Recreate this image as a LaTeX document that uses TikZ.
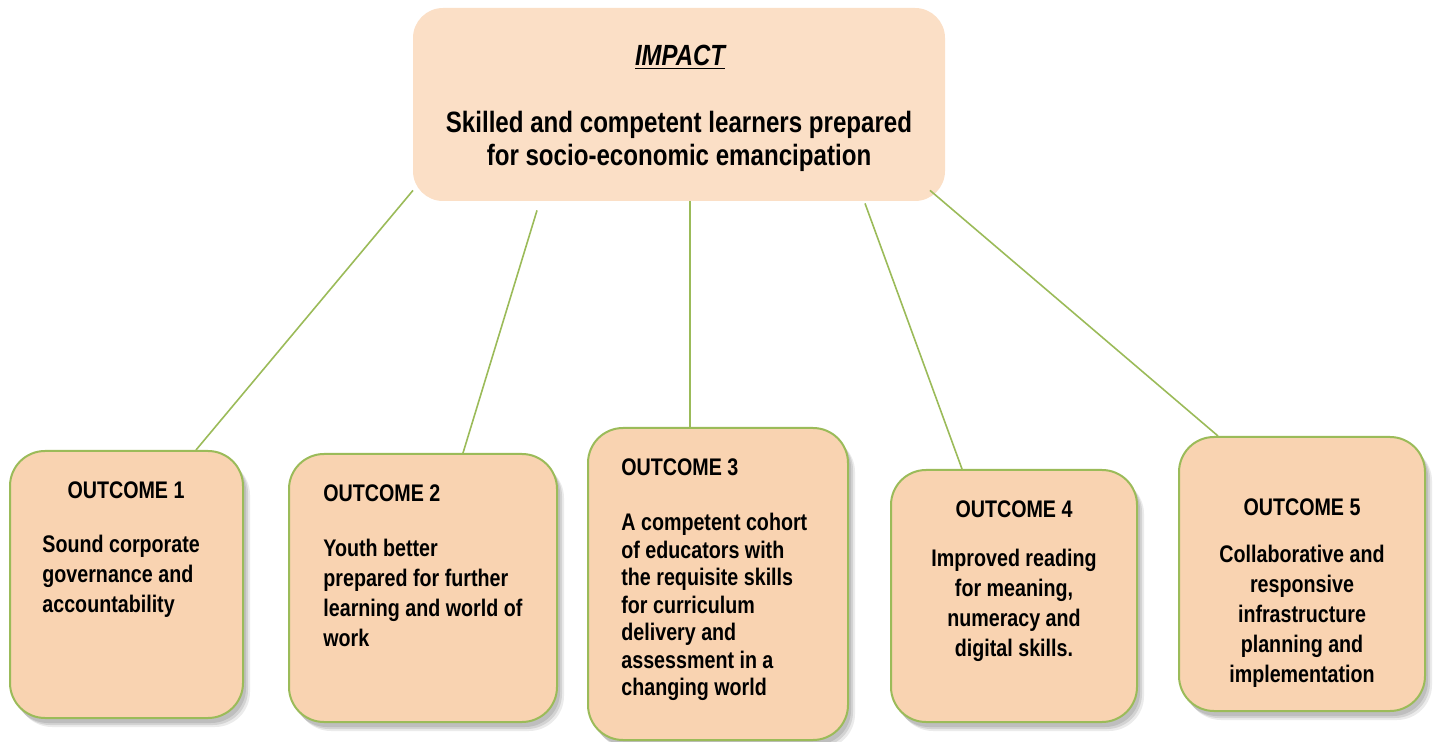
\documentclass[tikz,border=0pt]{standalone}
\usepackage{fontspec}
\setmainfont{Liberation Sans}[FakeStretch=0.82]
\usetikzlibrary{shadows,calc}
\definecolor{impactfill}{HTML}{FBDFC6}
\definecolor{outfill}{HTML}{F9D3B1}
\definecolor{leaf}{HTML}{9BBB59}
\tikzset{
  impactbox/.style={draw=none, fill=impactfill, rounded corners=15pt, inner sep=0pt},
  outbox/.style={draw=leaf, line width=1pt, fill=outfill, rounded corners=17.5pt, inner sep=0pt,
    general shadow={fill=black, opacity=0.10, shadow xshift=1.5pt, shadow yshift=-2.5pt},
    general shadow={fill=black, opacity=0.10, shadow xshift=2.5pt, shadow yshift=-3.5pt},
    general shadow={fill=black, opacity=0.08, shadow xshift=3.5pt, shadow yshift=-4.5pt}},
  link/.style={draw=leaf, line width=0.8pt},
  head/.style={inner sep=0pt, font=\bfseries\fontsize{12}{15}\selectfont},
  body/.style={inner sep=0pt, font=\bfseries\fontsize{12}{15}\selectfont},
}
\begin{document}
\begin{tikzpicture}[x=0.5pt, y=-0.5pt]
\useasboundingbox (0,0) rectangle (1434,742);
% impact
\node[impactbox, minimum width=266pt, minimum height=96.5pt] (impact) at (679,104.5) {};
\node[inner sep=0pt, font=\bfseries\itshape\fontsize{14.6}{16.5}\selectfont] (imptitle) at (680,57) {\underline{IMPACT}};
\node[inner sep=0pt, align=center, font=\bfseries\fontsize{14.7}{16.6}\selectfont] (imptext) at (679,141.5) {Skilled and competent learners prepared\\for socio-economic emancipation};
% outcome boxes
\node[outbox, minimum width=116.5pt, minimum height=133.5pt] (o1) at (126.5,584.5) {};
\node[outbox, minimum width=134pt, minimum height=134pt] (o2) at (423,588) {};
\node[outbox, minimum width=130pt, minimum height=156pt] (o3) at (718,584) {};
\node[outbox, minimum width=123pt, minimum height=126pt] (o4) at (1014,596) {};
\node[outbox, minimum width=123pt, minimum height=137pt] (o5) at (1302,574) {};
% texts
\node[head] (h1) at (126,490) {OUTCOME 1};
\node[body, anchor=west, align=left] (b1) at (42,576) {Sound corporate\\governance and\\accountability};
\node[head, anchor=west] (h2) at (323,493) {OUTCOME 2};
\node[body, anchor=west, align=left] (b2) at (323,593) {Youth better\\prepared for further\\learning and world of\\work};
\node[head, anchor=west] (h3) at (621,467) {OUTCOME 3};
\node[body, anchor=west, align=left, font=\bfseries\fontsize{12}{13.75}\selectfont] (b3) at (621,607) {A competent cohort\\of educators with\\the requisite skills\\for curriculum\\delivery and\\assessment in a\\changing world};
\node[head] (h4) at (1014,509) {OUTCOME 4};
\node[body, align=center] (b4) at (1014,605.5) {Improved reading\\for meaning,\\numeracy and\\digital skills.};
\node[head] (h5) at (1302,507) {OUTCOME 5};
\node[body, align=center] (b5) at (1302,616) {Collaborative and\\responsive\\infrastructure\\planning and\\implementation};
% connectors
\draw[link] ($(impact.south)+(-266,-11)$) -- ($(o1.north)+(69.5,0)$);
\draw[link] ($(impact.south)+(-142,9)$) -- ($(o2.north)+(40,0)$);
\draw[link] ($(impact.south)+(11,0)$) -- ($(o3.north)+(-28,0)$);
\draw[link] ($(impact.south)+(186,2)$) -- ($(o4.north)+(-52,0)$);
\draw[link] ($(impact.south)+(251,-11)$) -- ($(o5.north)+(-84,0)$);
\end{tikzpicture}
\end{document}
